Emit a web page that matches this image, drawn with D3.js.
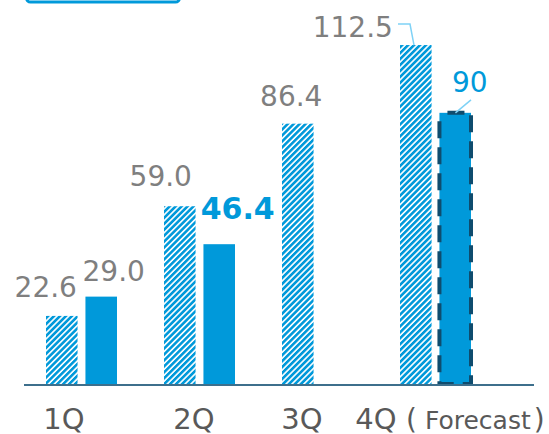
<!DOCTYPE html>
<html>
<head>
<meta charset="utf-8">
<script src="https://cdn.jsdelivr.net/npm/d3@7"></script>
<style>
  html, body { margin: 0; padding: 0; background: #fff; }
  svg { display: block; }
  text { font-family: "DejaVu Sans", Verdana, sans-serif; }
</style>
</head>
<body>
<svg id="chart" width="549" height="434"></svg>
<script>
// ---- data ----
const quarters = ["1Q", "2Q", "3Q", "4Q"];
const series = ["prev", "curr"];
const prevValues = [22.6, 59.0, 86.4, 112.5];
const currValues = [29.0, 46.4, null, 90];
const prevLabels = ["22.6", "59.0", "86.4", "112.5"];
const currLabels = ["29.0", "46.4", "", "90"];
const forecastFlags = [false, false, false, true];
const forecastNote = "Forecast";

// ---- layout / style ----
const W = 549, H = 434;
const baseY = 384;
const blue = "#0099da";
const gray = "#7f7f7f";
const axisGray = "#595959";
const darkEdge = "#0f4c6e";
const leaderColor = "#7fd2f6";
// label nudges relative to bar center (dx) and bar top (dy)
const prevNudge = [[-16, 19], [-19, 20], [-6.5, 18], [-63, 8]];
const currNudge = [[12.5, 16], [18.5, 25], [0, 0], [14.5, 21]];
const currBold = [false, true, false, false];

const svg = d3.select("#chart");

const defs = svg.append("defs");
const pat = defs.append("pattern")
  .attr("id", "hatch")
  .attr("patternUnits", "userSpaceOnUse")
  .attr("width", 4.2).attr("height", 4.2)
  .attr("patternTransform", "rotate(45)");
pat.append("rect").attr("width", 4.2).attr("height", 4.2).attr("fill", "#fff");
pat.append("rect").attr("width", 2.6).attr("height", 4.2).attr("fill", blue);

const x0 = d3.scaleBand().domain(quarters).range([46, 46 + 118 * 4]).padding(0);
const x1 = d3.scaleBand().domain(series).range([0, 71]).paddingInner(0.2).paddingOuter(0);
const y = d3.scaleLinear().domain([0, 120]).range([baseY, baseY - 120 * 3.013]);

// legend box remnant at top
svg.append("rect")
  .attr("x", 26.5).attr("y", -30).attr("width", 153).attr("height", 32)
  .attr("rx", 4).attr("fill", "#fff").attr("stroke", blue).attr("stroke-width", 3);

const prevData = quarters.map((q, i) => ({ q, i, v: prevValues[i], label: prevLabels[i] }));
const currData = quarters.map((q, i) => ({ q, i, v: currValues[i], label: currLabels[i], fc: forecastFlags[i] }))
  .filter(d => d.v != null);

// hatched bars (previous)
svg.append("g").selectAll("rect").data(prevData).join("rect")
  .attr("x", d => x0(d.q) + x1("prev"))
  .attr("y", d => y(d.v))
  .attr("width", x1.bandwidth())
  .attr("height", d => y(0) - y(d.v))
  .attr("fill", "url(#hatch)");

// solid bars (current)
svg.append("g").selectAll("rect").data(currData).join("rect")
  .attr("x", d => x0(d.q) + x1("curr"))
  .attr("y", d => y(d.v))
  .attr("width", x1.bandwidth())
  .attr("height", d => y(0) - y(d.v))
  .attr("fill", blue)
  .attr("stroke", d => d.fc ? darkEdge : "none")
  .attr("stroke-width", d => d.fc ? 4 : 0)
  .attr("stroke-dasharray", d => d.fc ? "17 9" : null)
  .attr("stroke-dashoffset", d => d.fc ? 18 : null);

// baseline
svg.append("line")
  .attr("x1", 24).attr("x2", 534)
  .attr("y1", baseY + 1).attr("y2", baseY + 1)
  .attr("stroke", "#3d6f8c").attr("stroke-width", 2);

// value labels
svg.append("g").selectAll("text").data(prevData).join("text")
  .attr("x", d => x0(d.q) + x1("prev") + x1.bandwidth() / 2 + prevNudge[d.i][0])
  .attr("y", d => y(d.v) - prevNudge[d.i][1])
  .attr("text-anchor", "middle")
  .attr("font-size", 28)
  .attr("fill", gray)
  .text(d => d.label);

svg.append("g").selectAll("text").data(currData).join("text")
  .attr("x", d => x0(d.q) + x1("curr") + x1.bandwidth() / 2 + currNudge[d.i][0])
  .attr("y", d => y(d.v) - currNudge[d.i][1])
  .attr("text-anchor", "middle")
  .attr("font-size", d => currBold[d.i] ? 30 : 28)
  .attr("font-weight", d => currBold[d.i] ? "bold" : "normal")
  .attr("fill", d => (currBold[d.i] || d.fc) ? blue : gray)
  .text(d => d.label);

// leader lines for 4Q
const q4 = quarters[3];
const pL = x0(q4) + x1("prev"), pTop = y(prevValues[3]);
svg.append("polyline")
  .attr("points", [[pL - 2, pTop - 21], [pL + 10, pTop - 21], [pL + 14, pTop]].map(p => p.join(",")).join(" "))
  .attr("fill", "none").attr("stroke", leaderColor).attr("stroke-width", 1.5);
const cL = x0(q4) + x1("curr"), cTop = y(currValues[3]);
svg.append("line")
  .attr("x1", cL + x1.bandwidth()).attr("y1", cTop - 13)
  .attr("x2", cL + 16).attr("y2", cTop)
  .attr("stroke", leaderColor).attr("stroke-width", 1.5);

// category labels
const catX = [64, 194, 302, 376];
svg.append("g").selectAll("text").data(quarters).join("text")
  .attr("x", (d, i) => catX[i])
  .attr("y", 429)
  .attr("text-anchor", "middle")
  .attr("font-size", 29)
  .attr("fill", axisGray)
  .text(d => d);

const fc = svg.append("text")
  .attr("x", 406).attr("y", 429)
  .attr("font-size", 25)
  .attr("fill", axisGray);
fc.append("tspan").attr("font-size", 28).text("(");
fc.append("tspan").attr("dx", 8).text(forecastNote);
fc.append("tspan").attr("dx", 3).attr("font-size", 28).text(")");
</script>
</body>
</html>
